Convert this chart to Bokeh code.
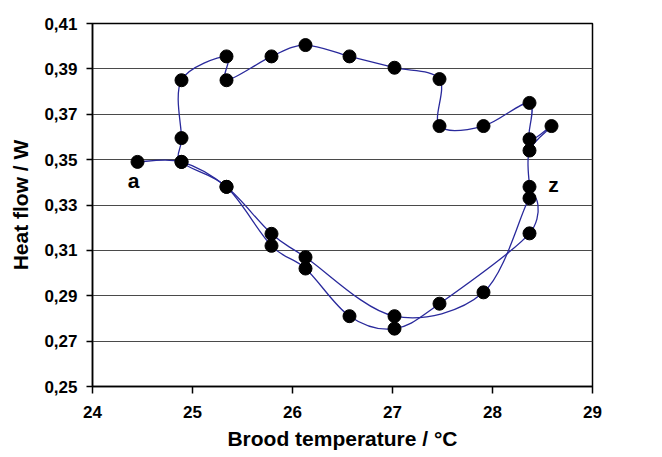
from bokeh.plotting import figure
from bokeh.models import Range1d, FixedTicker, CustomJSTickFormatter, Label, ColumnDataSource
from bokeh.embed import file_html
from bokeh.resources import INLINE
import numpy as np

# Measurement sequence (from "a" to "z")
brood_temp = [24.45, 24.89, 25.34, 25.79, 26.13, 27.02, 27.91, 28.37, 28.37, 27.47,
              27.02, 26.57, 26.13, 25.79, 25.34, 24.89, 24.89, 24.89, 25.34, 25.34,
              25.79, 26.13, 26.57, 27.02, 27.47, 27.47, 27.91, 28.37, 28.37, 28.59,
              28.37, 28.37]
heat_flow = [0.349, 0.349, 0.338, 0.3173, 0.307, 0.281, 0.2915, 0.333, 0.3175, 0.2865,
             0.2755, 0.281, 0.302, 0.312, 0.338, 0.349, 0.3595, 0.385, 0.3955, 0.385,
             0.3955, 0.4005, 0.3955, 0.3905, 0.3855, 0.3648, 0.3648, 0.375, 0.359, 0.3648,
             0.354, 0.338]

x_ticks = [24, 25, 26, 27, 28, 29]
y_ticks = [0.25, 0.27, 0.29, 0.31, 0.33, 0.35, 0.37, 0.39, 0.41]

start_label = {"text": "a", "x": 24.41, "y": 0.3408}
end_label = {"text": "z", "x": 28.61, "y": 0.339}

FONT = "Liberation Sans"

p = figure(width=662, height=457, output_backend="svg", toolbar_location=None,
           x_range=Range1d(24, 29), y_range=Range1d(0.25, 0.41),
           min_border_left=92, min_border_right=70, min_border_top=23, min_border_bottom=71)

p.background_fill_color = "white"
p.border_fill_color = "white"
p.outline_line_color = "black"
p.outline_line_width = 1.5

p.xgrid.grid_line_color = None
p.ygrid.grid_line_color = "#4a4a4a"
p.ygrid.grid_line_width = 1.2
p.ygrid.ticker = FixedTicker(ticks=y_ticks)

p.xaxis.ticker = FixedTicker(ticks=x_ticks)
p.yaxis.ticker = FixedTicker(ticks=y_ticks)
p.yaxis.formatter = CustomJSTickFormatter(code="return tick.toFixed(2).replace('.', ',');")

for ax in (p.xaxis[0], p.yaxis[0]):
    ax.axis_line_color = "black"
    ax.axis_line_width = 1.5
    ax.major_tick_line_color = "black"
    ax.major_tick_line_width = 1.5
    ax.major_tick_in = 0
    ax.minor_tick_line_color = None
    ax.major_label_text_font = FONT
    ax.major_label_text_font_style = "bold"
    ax.major_label_text_font_size = "17px"
    ax.major_label_text_color = "black"
    ax.axis_label_text_font = FONT
    ax.axis_label_text_font_style = "bold"
    ax.axis_label_text_font_size = "21px"
    ax.axis_label_text_color = "black"

p.xaxis.major_tick_out = 7
p.xaxis.major_label_standoff = 12
p.xaxis.axis_label_standoff = 6
p.yaxis.major_tick_out = 6
p.yaxis.major_label_standoff = 9
p.yaxis.axis_label_standoff = 9

p.xaxis.axis_label = "Brood temperature / °C"
p.yaxis.axis_label = "Heat flow / W"

# smoothed connecting line (Catmull-Rom style Bezier segments, like Excel smoothing)
X = np.array(brood_temp)
Y = np.array(heat_flow)
n = len(X)
x0, y0, x1, y1, cx0, cy0, cx1, cy1 = [], [], [], [], [], [], [], []
for i in range(n - 1):
    im = i - 1 if i > 0 else i
    ip = i + 2 if i + 2 < n else i + 1
    x0.append(X[i]); y0.append(Y[i]); x1.append(X[i + 1]); y1.append(Y[i + 1])
    cx0.append(X[i] + (X[i + 1] - X[im]) / 6.0)
    cy0.append(Y[i] + (Y[i + 1] - Y[im]) / 6.0)
    cx1.append(X[i + 1] - (X[ip] - X[i]) / 6.0)
    cy1.append(Y[i + 1] - (Y[ip] - Y[i]) / 6.0)

bsrc = ColumnDataSource(dict(x0=x0, y0=y0, x1=x1, y1=y1, cx0=cx0, cy0=cy0, cx1=cx1, cy1=cy1))
p.bezier(x0="x0", y0="y0", x1="x1", y1="y1", cx0="cx0", cy0="cy0", cx1="cx1", cy1="cy1",
         source=bsrc, line_color="#2a2a9c", line_width=1.3)

p.scatter(x=brood_temp, y=heat_flow, size=13, marker="circle",
          fill_color="black", line_color="black")

for lab in (start_label, end_label):
    p.add_layout(Label(x=lab["x"], y=lab["y"], text=lab["text"], text_align="center",
                       text_baseline="middle", text_font=FONT, text_font_style="bold",
                       text_font_size="21px", text_color="black"))

open("out.html", "w").write(file_html(p, INLINE))
